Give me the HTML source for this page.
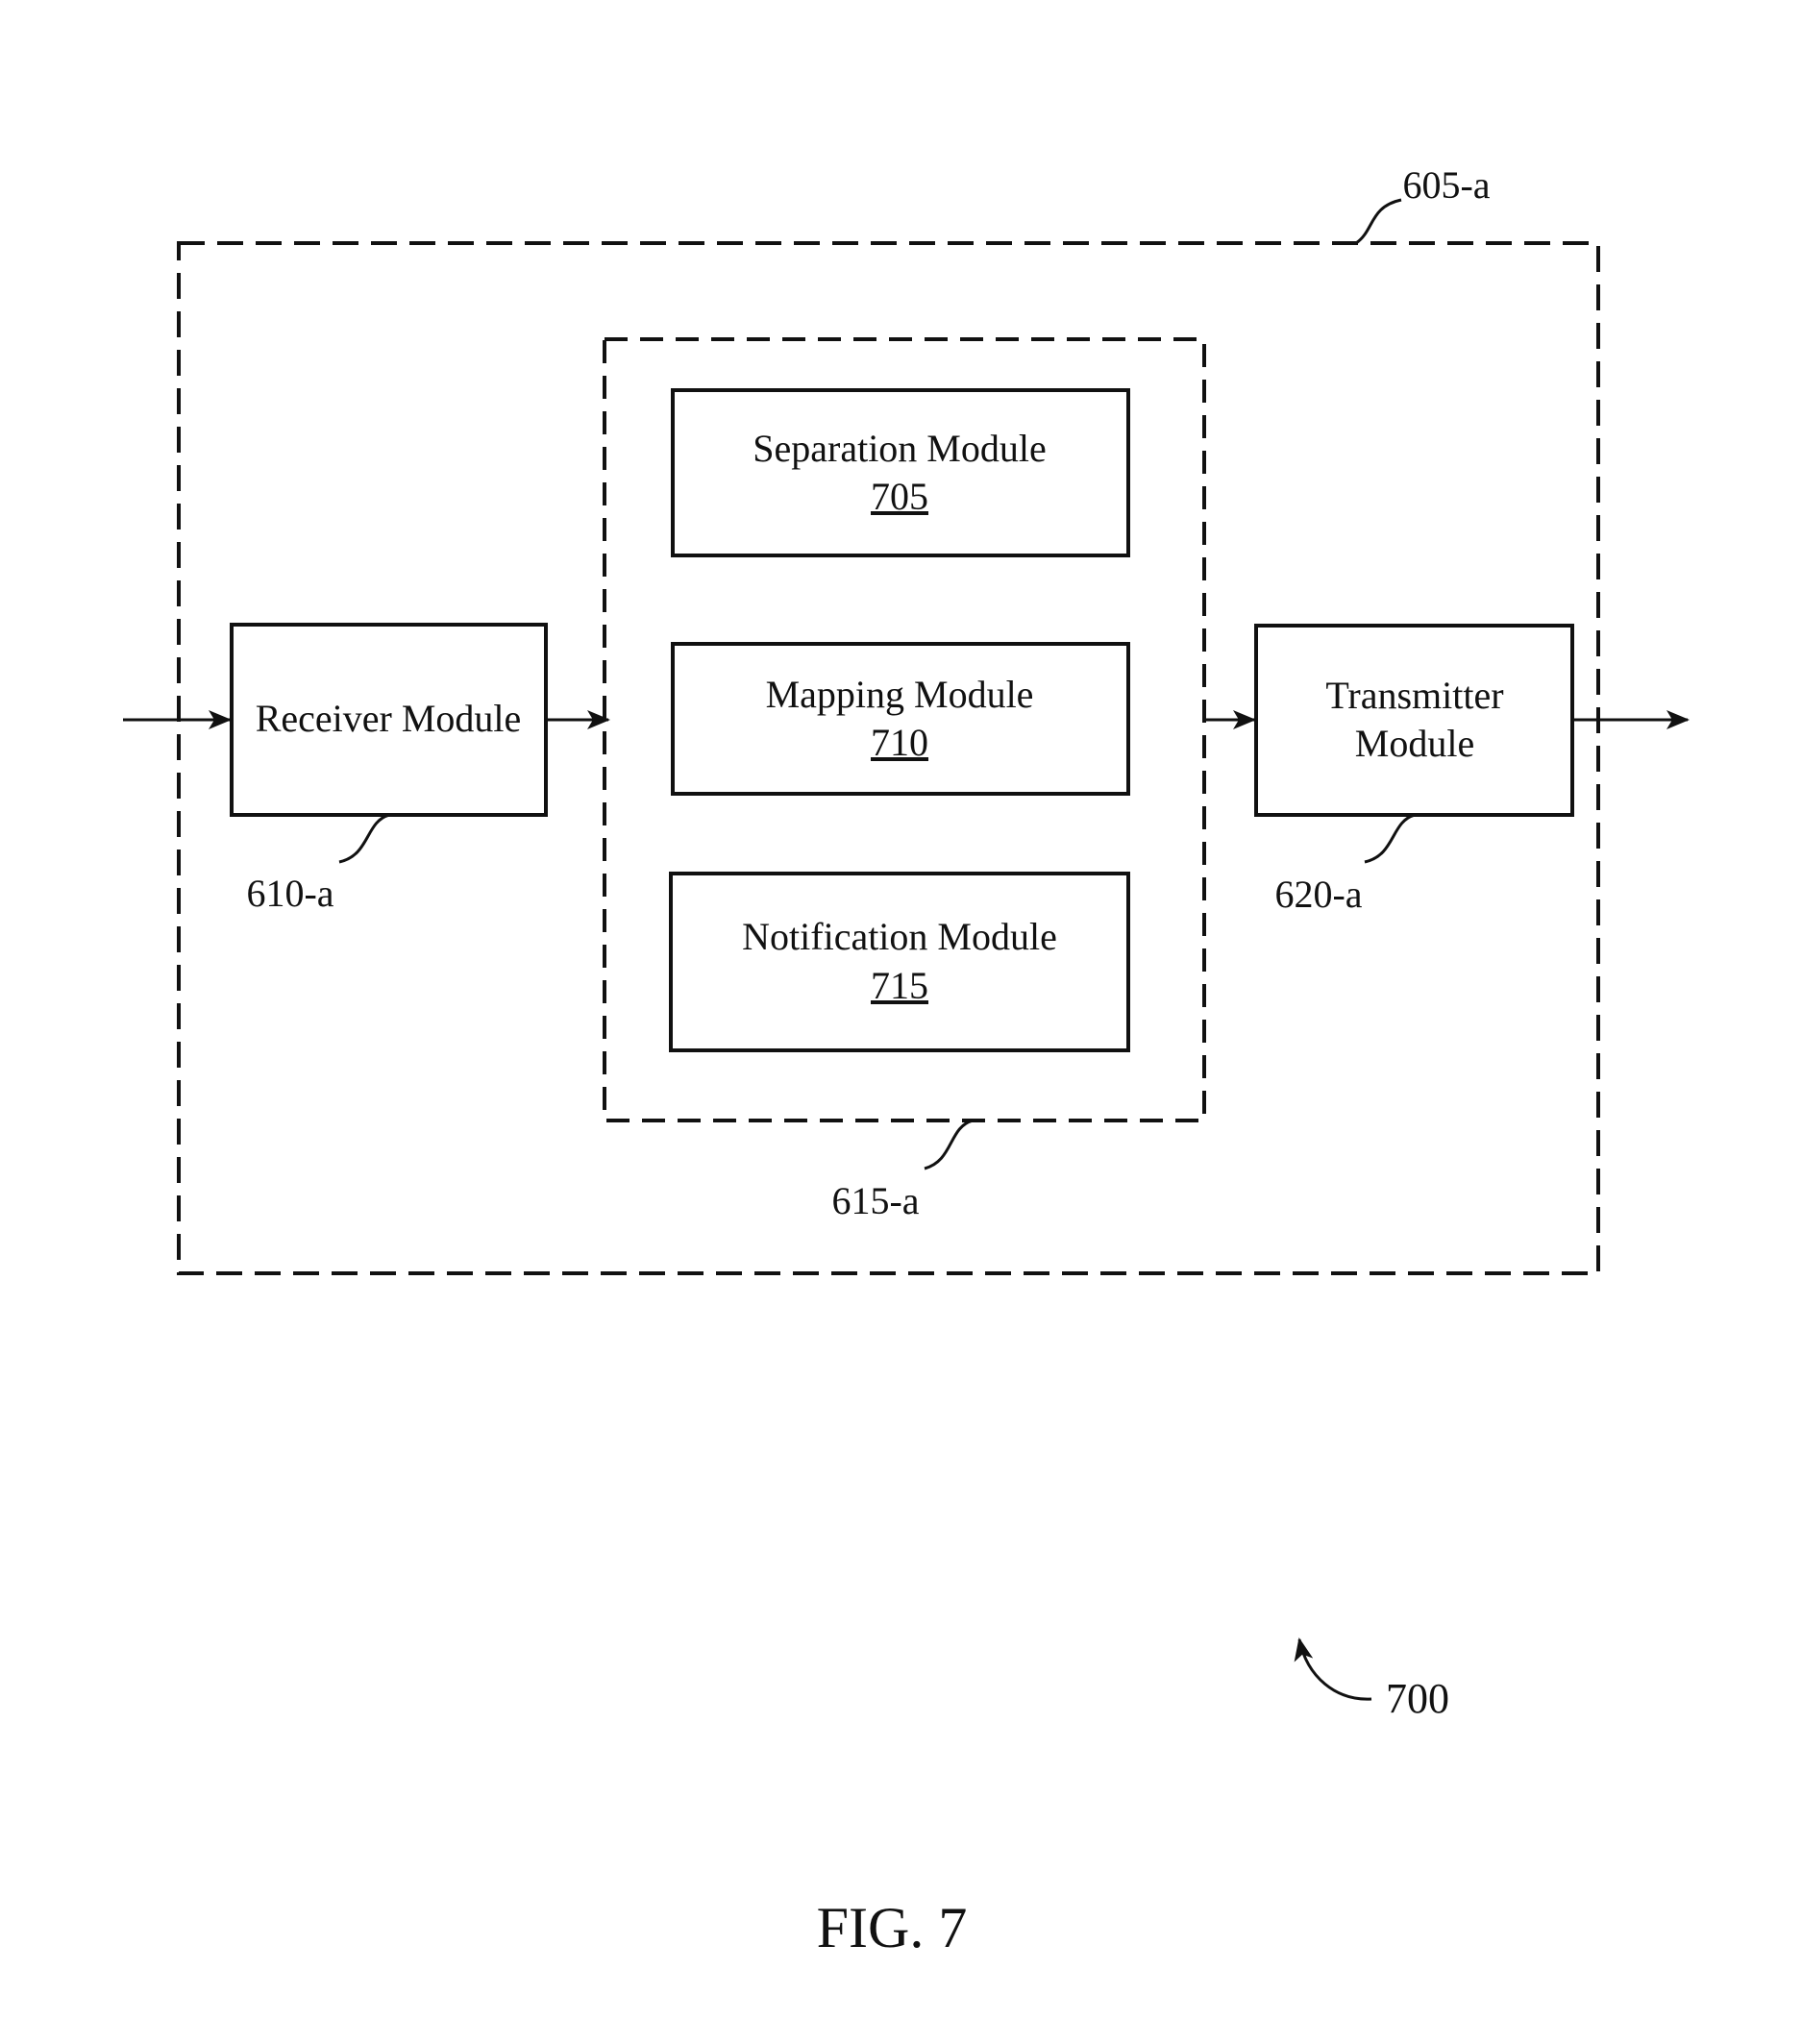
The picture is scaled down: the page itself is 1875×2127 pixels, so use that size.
<!DOCTYPE html>
<html><head><style>html,body{margin:0;padding:0;background:#fff}</style></head>
<body>
<svg width="1875" height="2122" viewBox="0 0 1875 2122" xmlns="http://www.w3.org/2000/svg" font-family="Liberation Serif, serif" fill="none" stroke="#111">
<defs><marker id="a" markerWidth="12" markerHeight="12" refX="11" refY="6" orient="auto" markerUnits="userSpaceOnUse"><path d="M0,0 L12,6 L0,12 L3,6 z" fill="#111" stroke="none"/></marker>
<marker id="b" markerWidth="24" markerHeight="20" refX="22" refY="10" orient="auto" markerUnits="userSpaceOnUse"><path d="M0,0 L24,10 L0,20 L6,10 z" fill="#111" stroke="none"/></marker></defs>
<rect x="186" y="253" width="1477" height="1072" stroke-width="4" stroke-dasharray="27,13"/>
<rect x="629" y="353" width="624" height="813" stroke-width="4" stroke-dasharray="24,13"/>
<g stroke-width="4">
<rect x="700" y="406" width="474" height="172"/>
<rect x="700" y="670" width="474" height="156"/>
<rect x="698" y="909" width="476" height="184"/>
<rect x="241" y="650" width="327" height="198"/>
<rect x="1307" y="651" width="329" height="197"/>
</g>
<g stroke-width="3">
<line x1="128" y1="749" x2="239" y2="749" marker-end="url(#b)"/>
<line x1="568" y1="749" x2="633" y2="749" marker-end="url(#b)"/>
<line x1="1253" y1="749" x2="1305" y2="749" marker-end="url(#b)"/>
<line x1="1636" y1="749" x2="1756" y2="749" marker-end="url(#b)"/>
<path d="M1411,253 C1430,240 1425,215 1458,208"/>
<path d="M405,848 C380,855 385,890 353,897"/>
<path d="M1472,848 C1447,855 1452,890 1420,897"/>
<path d="M1012,1166 C987,1173 992,1208 962,1216"/>
<path d="M1427,1768 C1390,1770 1360,1745 1352,1706" marker-end="url(#b)"/>
</g>
<g fill="#111" stroke="none" font-size="40" text-anchor="middle">
<text x="936" y="480">Separation Module</text>
<text x="936" y="530" text-decoration="underline">705</text>
<text x="936" y="736">Mapping Module</text>
<text x="936" y="786" text-decoration="underline">710</text>
<text x="936" y="988">Notification Module</text>
<text x="936" y="1039" text-decoration="underline">715</text>
<text x="404" y="761">Receiver Module</text>
<text x="1472" y="737">Transmitter</text>
<text x="1472" y="787">Module</text>
<text x="302" y="943">610-a</text>
<text x="1372" y="944">620-a</text>
<text x="911" y="1263">615-a</text>
<text x="1505" y="206">605-a</text>
<text x="1475" y="1782" font-size="44">700</text>
<text x="928" y="2026" font-size="60">FIG. 7</text>
</g>
</svg>
</body></html>
